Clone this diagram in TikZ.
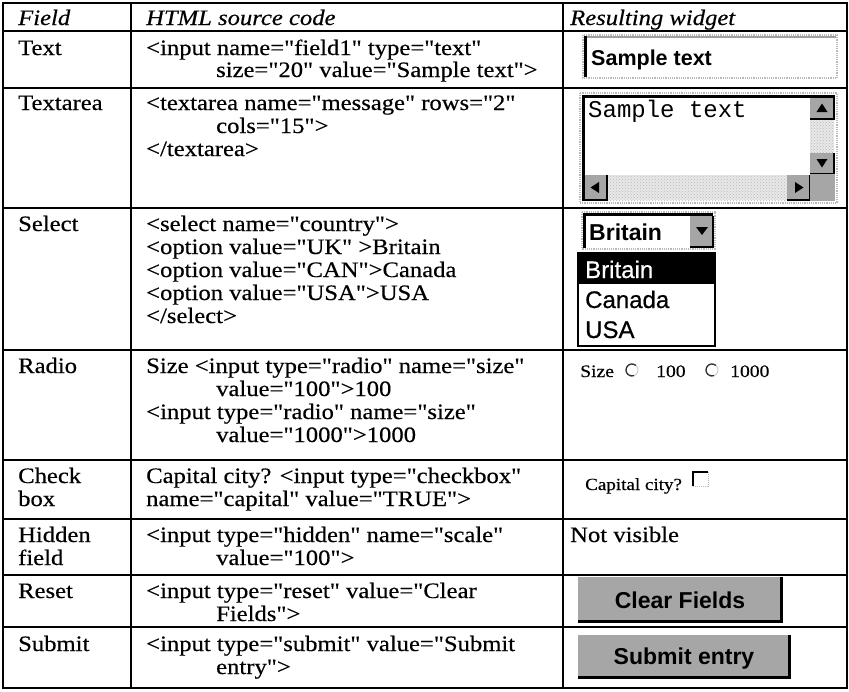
\documentclass[tikz,border=0pt]{standalone}
\usepackage{fontspec}
% table text: Times-like serif, straight quotes kept (no TeX ligatures)
\newfontfamily\tabfont{Liberation Serif}[FakeStretch=1.12, FakeBold=0.4]
\newfontfamily\uisans{Liberation Sans}
\newfontfamily\uisanslist{Liberation Sans}[FakeBold=0.6]
\newfontfamily\uimono{Liberation Mono}
\usetikzlibrary{patterns}
\begin{document}
\begin{tikzpicture}[x=1pt,y=-1pt,
  rule/.style={line width=1.2pt, line cap=rect},
  cell/.style={anchor=base west, inner sep=0pt, font=\tabfont\fontsize{22}{24}\selectfont},
  head/.style={cell, font=\tabfont\itshape\fontsize{22}{24}\selectfont},
  small/.style={anchor=base west, inner sep=0pt, font=\tabfont\fontsize{17.5}{20}\selectfont},
  uitext/.style={anchor=base west, inner sep=0pt, font=\uisanslist\fontsize{24}{26}\selectfont},
  uibold/.style={anchor=base west, inner sep=0pt, font=\uisans\bfseries\fontsize{21.5}{24}\selectfont},
  btnlabel/.style={anchor=base, inner sep=0pt, font=\uisans\bfseries\fontsize{23}{26}\selectfont},
  frame/.style={gray!55, line width=1.2pt, densely dotted},
  inset/.style={black, line width=3pt},
  face/.style={fill=black!35},
  track/.style={fill=gray!18, postaction={pattern=crosshatch dots, pattern color=gray!55}},
  edge/.style={black, line width=1.6pt},
  radio/.style={black!80, line width=1.3pt}
]
\useasboundingbox (0,0) rectangle (849,691);
\fill[white] (0,0) rectangle (849,691);

% ---- table rules ----
\draw[rule] (3,3) rectangle (847,688);
\foreach \yy in {31,88,208,350,460,519,575,627}
  \draw[rule] (3,\yy) -- (847,\yy);
\draw[rule] (131,3) -- (131,688);
\draw[rule] (563,3) -- (563,688);

% ---- header ----
\node[head] (hfield) at (18,25) {Field};
\node[head] (hsrc) at (146,25) {HTML source code};
\node[head] (hwidget) at (570,25) {Resulting widget};

% ---- field names ----
\node[cell] (ftext) at (18,55) {Text};
\node[cell] (farea) at (18,110) {Textarea};
\node[cell] (fselect) at (18,231) {Select};
\node[cell] (fradio) at (18,373) {Radio};
\node[cell] (fcheckA) at (18,483) {Check};
\node[cell] (fcheckB) at (18,506) {box};
\node[cell] (fhiddenA) at (18,542) {Hidden};
\node[cell] (fhiddenB) at (18,565) {field};
\node[cell] (freset) at (18,598) {Reset};
\node[cell] (fsubmit) at (18,651) {Submit};

% ---- HTML source ----
\node[cell] (srcTa) at (146,55) {<input name="field1" type="text"};
\node[cell] (srcTb) at (216,77) {size="20" value="Sample text">};
\node[cell] (srcAa) at (146,110) {<textarea name="message" rows="2"};
\node[cell] (srcAb) at (216,133) {cols="15">};
\node[cell] (srcAc) at (146,156) {</textarea>};
\node[cell] (srcSa) at (146,231) {<select name="country">};
\node[cell] (srcSb) at (146,254) {<option value="UK" >Britain};
\node[cell] (srcSc) at (146,277) {<option value="CAN">Canada};
\node[cell] (srcSd) at (146,300) {<option value="USA">USA};
\node[cell] (srcSe) at (146,323) {</select>};
\node[cell] (srcRa) at (146,373) {Size <input type="radio" name="size"};
\node[cell] (srcRb) at (216,396) {value="100">100};
\node[cell] (srcRc) at (146,419) {<input type="radio" name="size"};
\node[cell] (srcRd) at (216,442) {value="1000">1000};
\node[cell] (srcCa) at (146,483) {Capital city? <input type="checkbox"};
\node[cell] (srcCb) at (146,506) {name="capital" value="TRUE">};
\node[cell] (srcHa) at (146,542) {<input type="hidden" name="scale"};
\node[cell] (srcHb) at (216,565) {value="100">};
\node[cell] (srcXa) at (146,598) {<input type="reset" value="Clear};
\node[cell] (srcXb) at (216,621) {Fields">};
\node[cell] (srcUa) at (146,651) {<input type="submit" value="Submit};
\node[cell] (srcUb) at (216,674) {entry">};

% ---- widget: text field ----
\fill[white] (583,35) rectangle (837,78);
\draw[frame] (583,35) rectangle (837,78);
\draw[gray!75, line width=2pt] (584,36.5) -- (836,36.5);
\draw[inset] (585.5,36) -- (585.5,77);
\node[uibold] (wtext) at (591,65) {Sample text};

% ---- widget: text area ----
\draw[frame] (580,93) rectangle (837,203);
\draw[inset] (583.5,201) -- (583.5,96.5) -- (835,96.5);
\node[anchor=base west, inner sep=0pt, font=\uimono\fontsize{24}{26}\selectfont] (warea) at (588,117) {Sample text};
% vertical scroll bar
\path[track] (810,98) rectangle (834,174);
\fill[face] (810,98) rectangle (834,119);
\draw[edge] (810,119) -- (834,119) -- (834,98);
\fill (822,103.5) -- (827.5,112) -- (816.5,112) -- cycle;
\fill[face] (810,153) rectangle (834,174);
\draw[edge] (810,174) -- (834,174) -- (834,153);
\fill (816.5,159) -- (827.5,159) -- (822,167.5) -- cycle;
% horizontal scroll bar
\path[track] (585,175) rectangle (810,200);
\fill[face] (585,175) rectangle (607,200);
\draw[edge] (585,200) -- (607,200) -- (607,175);
\fill (590.5,187.5) -- (599,182) -- (599,193) -- cycle;
\fill[face] (787,175) rectangle (810,200);
\draw[edge] (787,200) -- (810,200) -- (810,175);
\fill (803.5,187.5) -- (795,182) -- (795,193) -- cycle;
\fill[face] (810,174) rectangle (835,201);

% ---- widget: select ----
\draw[frame] (582,212) rectangle (715,249);
\draw[inset] (584.5,248) -- (584.5,214) -- (713,214);
\fill[face] (690,215.5) rectangle (713,247);
\draw[edge] (690,247) -- (713,247) -- (713,215.5);
\fill (696,227) -- (708,227) -- (702,235) -- cycle;
\node[uibold, font=\uisans\bfseries\fontsize{23}{26}\selectfont] (wsel) at (589,240) {Britain};
\fill[black] (578,253) rectangle (715,284);
\draw[black, line width=1.3pt] (578,253) rectangle (715,346);
\node[uitext, text=white] (optA) at (585,278) {Britain};
\node[uitext] (optB) at (585,308) {Canada};
\node[uitext] (optC) at (585,338) {USA};

% ---- widget: radio buttons ----
\node[small] (rsize) at (580,377) {Size};
\draw[gray!45, line width=0.8pt] (632,370) circle (6);
\draw[radio] (632,370) ++(-50:6) arc (-50:-290:6);
\node[small] (r100) at (656,377) {100};
\draw[gray!45, line width=0.8pt] (712,370) circle (6);
\draw[radio] (712,370) ++(-50:6) arc (-50:-290:6);
\node[small] (r1000) at (730,377) {1000};

% ---- widget: check box ----
\node[small, font=\tabfont\fontsize{17}{20}\selectfont] (cap) at (585,490) {Capital city?};
\draw[gray!55, line width=1pt, densely dotted] (693,472) rectangle (708,486);
\draw[black, line width=1.8pt] (693,486) -- (693,472) -- (708,472);

% ---- hidden field ----
\node[cell] (hid) at (570,542) {Not visible};

% ---- buttons ----
\fill[face] (578,577) rectangle (782,622);
\draw[gray!70, line width=1pt] (578,622) -- (578,577) -- (782,577);
\draw[black, line width=2.6pt] (578,621.5) -- (781.5,621.5) -- (781.5,577);
\node[btnlabel] (bclear) at (680,608) {Clear Fields};
\fill[face] (578,635) rectangle (790,678);
\draw[gray!70, line width=1pt] (578,678) -- (578,635) -- (790,635);
\draw[black, line width=2.6pt] (578,677.5) -- (789.5,677.5) -- (789.5,635);
\node[btnlabel] (bsubmit) at (684,664) {Submit entry};
\end{tikzpicture}
\end{document}
